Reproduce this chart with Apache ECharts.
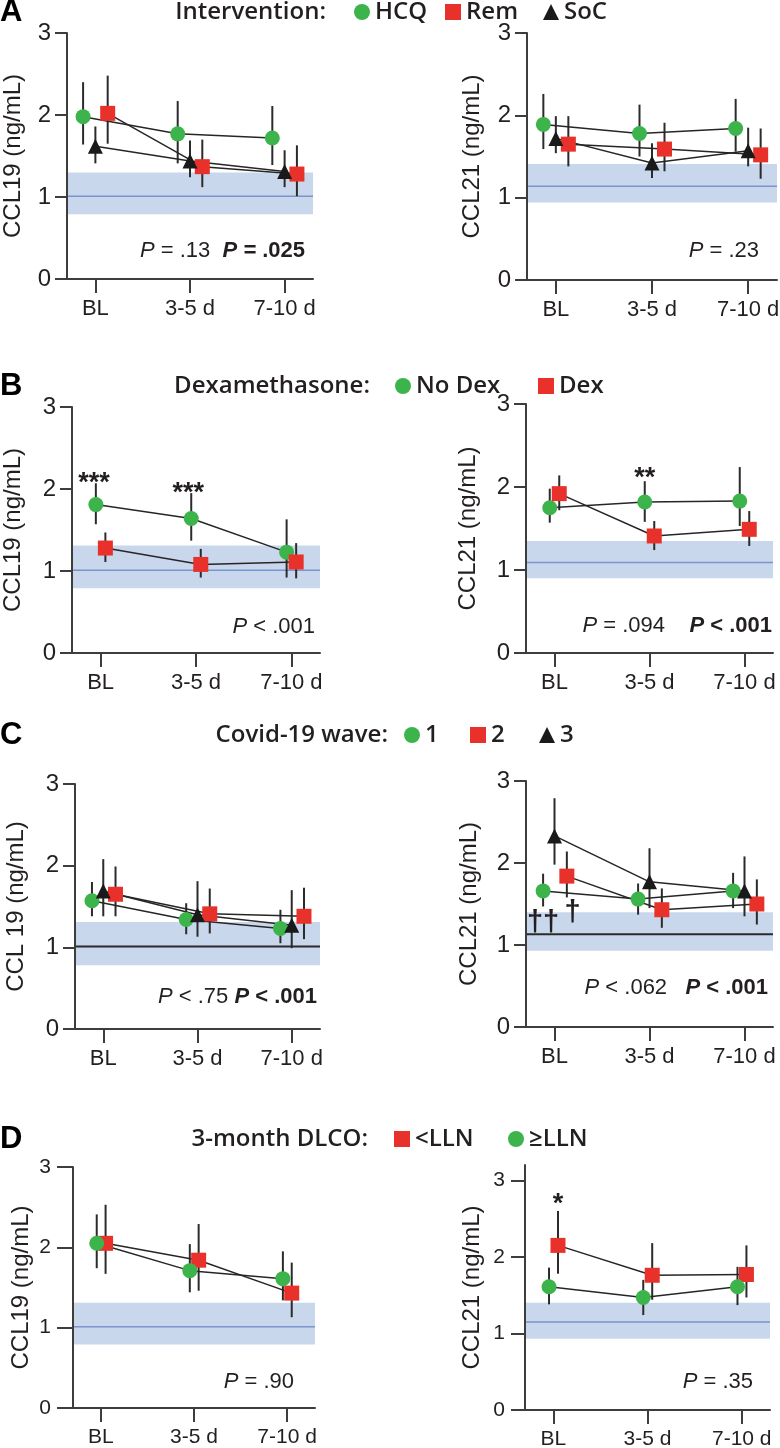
<!DOCTYPE html>
<html><head><meta charset="utf-8">
<script src="https://cdn.jsdelivr.net/npm/echarts@6/dist/echarts.min.js"></script>
<style>html,body{margin:0;padding:0;background:#fff}#c{width:780px;height:1448px}</style>
</head><body><div id="c"></div>
<script>
// ---------- DATA ----------
const timepoints = ['BL', '3-5 d', '7-10 d'];
const yTickValues = [0, 1, 2, 3];
// each row: [mean, lower, upper] for BL, 3-5 d, 7-10 d
const A_CCL19_HCQ = [[1.98,1.64,2.40],[1.77,1.41,2.17],[1.72,1.39,2.11]];
const A_CCL19_Rem = [[2.02,1.65,2.48],[1.37,1.12,1.70],[1.28,1.01,1.63]];
const A_CCL19_SoC = [[1.62,1.41,1.86],[1.44,1.24,1.69],[1.31,1.12,1.57]];
const A_CCL21_HCQ = [[1.89,1.59,2.26],[1.78,1.50,2.13],[1.84,1.56,2.20]];
const A_CCL21_Rem = [[1.65,1.38,1.99],[1.59,1.32,1.91],[1.52,1.23,1.84]];
const A_CCL21_SoC = [[1.72,1.54,1.99],[1.42,1.24,1.66],[1.57,1.38,1.85]];

const B_CCL19_NoDex = [[1.81,1.57,2.07],[1.64,1.37,1.95],[1.23,0.92,1.63]];
const B_CCL19_Dex   = [[1.28,1.11,1.47],[1.08,0.92,1.27],[1.11,0.91,1.34]];
const B_CCL21_NoDex = [[1.75,1.57,1.98],[1.82,1.58,2.07],[1.83,1.53,2.24]];
const B_CCL21_Dex   = [[1.92,1.72,2.14],[1.41,1.24,1.59],[1.49,1.29,1.71]];

const C_CCL19_W1 = [[1.57,1.38,1.80],[1.34,1.16,1.54],[1.23,1.05,1.46]];
const C_CCL19_W2 = [[1.65,1.38,1.99],[1.41,1.17,1.72],[1.38,1.10,1.73]];
const C_CCL19_W3 = [[1.69,1.38,2.08],[1.40,1.13,1.81],[1.27,0.99,1.70]];
const C_CCL21_W1 = [[1.66,1.47,1.87],[1.56,1.37,1.75],[1.66,1.45,1.88]];
const C_CCL21_W2 = [[1.84,1.58,2.14],[1.43,1.21,1.69],[1.50,1.25,1.80]];
const C_CCL21_W3 = [[2.33,1.98,2.79],[1.77,1.45,2.18],[1.66,1.35,2.08]];

const D_CCL19_Low  = [[2.05,1.67,2.53],[1.84,1.46,2.29],[1.43,1.13,1.81]];
const D_CCL19_High = [[2.05,1.74,2.41],[1.71,1.44,2.04],[1.61,1.34,1.95]];
const D_CCL21_Low  = [[2.15,1.78,2.60],[1.76,1.44,2.18],[1.77,1.47,2.15]];
const D_CCL21_High = [[1.61,1.38,1.86],[1.47,1.24,1.70],[1.61,1.37,1.87]];

// reference range: [lower, upper, median]
const REF_A_CCL19 = [0.79, 1.30, 1.01];
const REF_A_CCL21 = [0.94, 1.41, 1.14];
const REF_B_CCL19 = [0.79, 1.31, 1.01];
const REF_B_CCL21 = [0.90, 1.35, 1.09];
const REF_C_CCL19 = [0.78, 1.31, 1.01];
const REF_C_CCL21 = [0.93, 1.40, 1.13];
const REF_D_CCL19 = [0.79, 1.31, 1.01];
const REF_D_CCL21 = [0.93, 1.40, 1.15];

// significance marks: [timepoint index, value, text]
const ANN_B_CCL19 = [[0, 2.15, '***'], [1, 2.03, '***']];
const ANN_B_CCL21 = [[1, 2.19, '**']];
const ANN_C_CCL21 = [[0, 1.27, '††'], [0, 1.39, '†']];
const ANN_D_CCL21 = [[0, 2.78, '*']];

// ---------- STYLE ----------
const GREEN = '#3cb44b', RED = '#e8312a', BLACK = '#1a1a1a';
const TXT = '#231f20', AX = '#3d3d3d';
const BAND = '#c8d7ec', MED_BLUE = '#7a94cc', MED_BLACK = '#2a2a2a';
const SANS = 'Liberation Sans';
const HEAD = 'Open Sans';

const gA = [{name:'HCQ', symbol:'circle', color:GREEN, off:-0.13},
            {name:'Rem', symbol:'rect', color:RED, off:0.13},
            {name:'SoC', symbol:'triangle', color:BLACK, off:0}];
const gB = [{name:'No Dex', symbol:'circle', color:GREEN, off:-0.05},
            {name:'Dex', symbol:'rect', color:RED, off:0.05}];
const gC = [{name:'1', symbol:'circle', color:GREEN, off:-0.12},
            {name:'2', symbol:'rect', color:RED, off:0.13},
            {name:'3', symbol:'triangle', color:BLACK, off:0}];
const gD = [{name:'<LLN', symbol:'rect', color:RED, off:0.05},
            {name:'≥LLN', symbol:'circle', color:GREEN, off:-0.045}];

const panels = [
  {grid:[67,33,246,246], yMax:3, yName:'CCL19 (ng/mL)', nameGap:42, tick:12, lm:16, groups:gA,
   data:[A_CCL19_HCQ, A_CCL19_Rem, A_CCL19_SoC], ref:REF_A_CCL19, med:MED_BLUE, ann:[], annOff:[],
   p:{x:305, y:251, t:'{n|P} = .13  {bi|P = }{b|.025}'}},
  {grid:[527,33,250,247], yMax:3, yName:'CCL21 (ng/mL)', nameGap:43, tick:12, lm:16, groups:gA,
   data:[A_CCL21_HCQ, A_CCL21_Rem, A_CCL21_SoC], ref:REF_A_CCL21, med:MED_BLUE, ann:[], annOff:[],
   p:{x:759, y:251, t:'{n|P} = .23'}},
  {grid:[72,407,248,246], yMax:3, yName:'CCL19 (ng/mL)', nameGap:47, tick:12, lm:16, groups:gB,
   data:[B_CCL19_NoDex, B_CCL19_Dex], ref:REF_B_CCL19, med:MED_BLUE, ann:ANN_B_CCL19, annOff:[-0.07,-0.08],
   p:{x:315, y:627, t:'{n|P} < .001'}},
  {grid:[526,404,247,249], yMax:3, yName:'CCL21 (ng/mL)', nameGap:46, tick:12, lm:16, groups:gB,
   data:[B_CCL21_NoDex, B_CCL21_Dex], ref:REF_B_CCL21, med:MED_BLUE, ann:ANN_B_CCL21, annOff:[-0.05],
   p:{x:772, y:626, t:'{n|P} = .094    {bi|P}{b| < .001}'}},
  {grid:[75,784,245,245], yMax:3, yName:'CCL 19 (ng/mL)', nameGap:47, tick:12, lm:16, groups:gC,
   data:[C_CCL19_W1, C_CCL19_W2, C_CCL19_W3], ref:REF_C_CCL19, med:MED_BLACK, ann:[], annOff:[],
   p:{x:317, y:997, t:'{n|P} < .75 {bi|P}{b| < .001}'}},
  {grid:[526,781,247,246], yMax:3, yName:'CCL21 (ng/mL)', nameGap:45, tick:12, lm:16, groups:gC,
   data:[C_CCL21_W1, C_CCL21_W2, C_CCL21_W3], ref:REF_C_CCL21, med:MED_BLACK, ann:ANN_C_CCL21, annOff:[-0.12,0.19],
   p:{x:768, y:988, t:'{n|P} < .062   {bi|P}{b| < .001}'}},
  {grid:[73,1167,242,241], yMax:3, yName:'CCL19 (ng/mL)', nameGap:40, tick:16, lm:22, groups:gD,
   data:[D_CCL19_Low, D_CCL19_High], ref:REF_D_CCL19, med:MED_BLUE, ann:[], annOff:[],
   p:{x:294, y:1382, t:'{n|P} = .90'}},
  {grid:[525,1165,245,245], yMax:3.2, yName:'CCL21 (ng/mL)', nameGap:41, tick:14, lm:20, groups:gD,
   data:[D_CCL21_Low, D_CCL21_High], ref:REF_D_CCL21, med:MED_BLUE, ann:ANN_D_CCL21, annOff:[0.05],
   p:{x:753, y:1382, t:'{n|P} = .35'}}
];

const headers = [
  {letter:'A', y:12, title:'Intervention:', titleRight:326, legend:[['HCQ',354],['Rem',445],['SoC',543]], groups:gA},
  {letter:'B', y:386, title:'Dexamethasone:', titleRight:370, legend:[['No Dex',395],['Dex',538]], groups:gB},
  {letter:'C', y:735, title:'Covid-19 wave:', titleRight:388, legend:[['1',404],['2',470],['3',539]], groups:gC},
  {letter:'D', y:1139, title:'3-month DLCO:', titleRight:368, legend:[['<LLN',394],['≥LLN',508]], groups:gD}
];

// ---------- BUILD ----------
const grid = [], xAxis = [], yAxis = [], series = [], graphic = [], legend = [];

panels.forEach((p, i) => {
  const dPanel = i >= 6;
  grid.push({left:p.grid[0], top:p.grid[1], width:p.grid[2], height:p.grid[3], containLabel:false, outerBoundsMode:'none'});
  xAxis.push({
    type:'value', gridIndex:i, min:-0.3, max:2.3,
    splitLine:{show:false},
    axisLine:{show:true, onZero:false, lineStyle:{color:AX, width:2}},
    axisTick:{show:true, customValues:[0,1,2], length:14, lineStyle:{color:AX, width:2}},
    axisLabel:{show:true, customValues:[0,1,2], formatter:v => timepoints[Math.round(v)] || '',
               margin:19, fontSize:dPanel ? 21 : 22, color:TXT, fontFamily:SANS}
  });
  yAxis.push({
    type:'value', gridIndex:i, min:0, max:p.yMax, interval:1,
    splitLine:{show:false},
    axisLine:{show:true, onZero:false, lineStyle:{color:AX, width:2}},
    axisTick:{show:true, customValues:yTickValues, length:p.tick, lineStyle:{color:AX, width:2}},
    axisLabel:{show:true, customValues:yTickValues, margin:p.lm, fontSize:dPanel ? 21 : 24, color:TXT, fontFamily:SANS},
    name:p.yName, nameLocation:'middle', nameGap:p.nameGap,
    nameTextStyle:{fontSize:24, color:TXT, fontFamily:SANS}
  });

  // reference band + median line
  series.push({
    type:'custom', name:'ref'+i, xAxisIndex:i, yAxisIndex:i, z:1, silent:true,
    data:[p.ref],
    renderItem:(params, api) => {
      const cs = params.coordSys;
      const yLo = api.coord([0, api.value(0)])[1];
      const yHi = api.coord([0, api.value(1)])[1];
      const yMed = api.coord([0, api.value(2)])[1];
      return {type:'group', children:[
        {type:'rect', shape:{x:cs.x + 1, y:yHi, width:cs.width - 1, height:yLo - yHi}, style:{fill:BAND}},
        {type:'line', shape:{x1:cs.x + 1, y1:yMed, x2:cs.x + cs.width, y2:yMed},
         style:{stroke:p.med, lineWidth:p.med === MED_BLACK ? 2 : 1.5}}
      ]};
    }
  });

  p.groups.forEach((g, s) => {
    const rows = p.data[s];
    series.push({
      type:'custom', name:g.name + ' err ' + i, xAxisIndex:i, yAxisIndex:i, z:2, silent:true,
      data: rows.map((r, k) => [k + g.off, r[1], r[2]]),
      renderItem:(params, api) => {
        const a = api.coord([api.value(0), api.value(1)]);
        const b = api.coord([api.value(0), api.value(2)]);
        return {type:'line', shape:{x1:a[0], y1:a[1], x2:b[0], y2:b[1]}, style:{stroke:'#2b2b2b', lineWidth:2}};
      }
    });
  });
  p.groups.forEach((g, s) => {
    const rows = p.data[s];
    series.push({
      type:'line', name:g.name, xAxisIndex:i, yAxisIndex:i, z:3,
      data: rows.map((r, k) => [k + g.off, r[0]]),
      symbol:g.symbol, symbolSize:15,
      itemStyle:{color:g.color},
      lineStyle:{color:'#262626', width:1.5},
      emphasis:{disabled:true}
    });
  });

  if (p.ann.length) {
    series.push({
      type:'custom', name:'ann'+i, xAxisIndex:i, yAxisIndex:i, z:4, silent:true,
      data: p.ann.map((a, k) => [a[0] + p.annOff[k], a[1]]),
      renderItem:(params, api) => {
        const c = api.coord([api.value(0), api.value(1)]);
        const t = p.ann[params.dataIndex][2];
        const isStar = t.indexOf('*') >= 0;
        return {type:'text', x:c[0], y:c[1] + (isStar ? 7 : 0),
          style:{text:t, fill:TXT, align:'center', verticalAlign:'middle',
                 font: isStar ? 'bold 27px ' + SANS : 'bold 29px ' + SANS}};
      }
    });
  }

  graphic.push({
    type:'text', x:p.p.x, y:p.p.y, silent:true,
    style:{text:p.p.t, fill:TXT, align:'right', verticalAlign:'middle', font:'22px ' + SANS,
      rich:{
        n:{fontStyle:'italic', fontSize:22, fontFamily:SANS, fill:TXT},
        bi:{fontStyle:'italic', fontWeight:'bold', fontSize:22, fontFamily:SANS, fill:TXT},
        b:{fontWeight:'bold', fontSize:22, fontFamily:SANS, fill:TXT}
      }}
  });
});

headers.forEach(h => {
  graphic.push({type:'text', x:0, y:h.y, silent:true,
    style:{text:h.letter, fill:'#000', font:'bold 31px ' + SANS, align:'left', verticalAlign:'middle'}});
  graphic.push({type:'text', x:h.titleRight, y:h.y, silent:true,
    style:{text:h.title, fill:TXT, font:'600 24px "' + HEAD + '"', align:'right', verticalAlign:'middle'}});
  h.legend.forEach(([name, x]) => {
    const g = h.groups.find(q => q.name === name);
    legend.push({
      show:true, left:x, top:h.y - 12, padding:0, selectedMode:false,
      itemWidth:16, itemHeight:16, itemGap:0,
      data:[{name:name, icon:g.symbol, itemStyle:{color:g.color}}],
      textStyle:{fontFamily:HEAD, fontWeight:600, fontSize:24, color:TXT, lineHeight:24}
    });
  });
});

const chart = echarts.init(document.getElementById('c'), null, {renderer:'canvas'});
chart.setOption({
  animation:false,
  backgroundColor:'#ffffff',
  tooltip:{show:false},
  grid, xAxis, yAxis, series, legend, graphic
});
</script>
</body></html>
